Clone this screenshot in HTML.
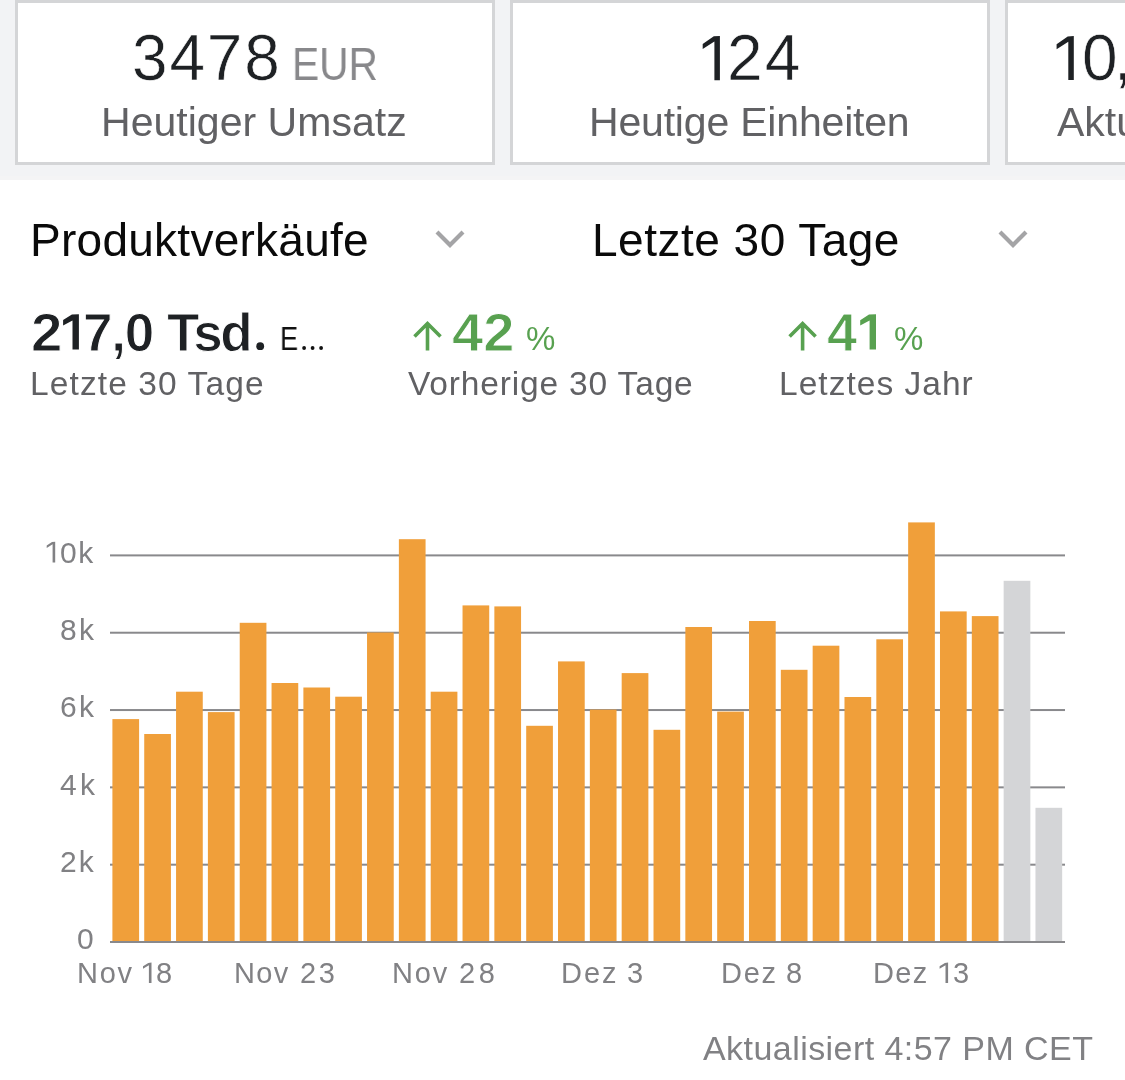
<!DOCTYPE html>
<html><head><meta charset="utf-8"><title>Produktverkäufe</title>
<style>
html,body{margin:0;padding:0;}
body{width:1125px;height:1080px;overflow:hidden;background:#fff;position:relative;font-family:"Liberation Sans",sans-serif;}
.band{position:absolute;left:0;top:0;width:1125px;height:176px;background:#f2f3f5;}
.band2{position:absolute;left:0;top:176px;width:1125px;height:4px;background:#f4f4f5;}
.card{position:absolute;top:0;width:480px;height:165px;box-sizing:border-box;border:3px solid #d4d5d7;background:#fff;}
.chart{position:absolute;left:0;top:0;}
.t{position:absolute;white-space:nowrap;line-height:1;will-change:transform;}
</style></head><body>
<div class="band"></div><div class="band2"></div>
<div class="card" style="left:15px"></div>
<div class="card" style="left:510px"></div>
<div class="card" style="left:1005px"></div>
<svg class="chart" width="1125" height="1080" viewBox="0 0 1125 1080">
<rect x="110" y="554.40" width="955" height="2" fill="#89898c"/>
<rect x="110" y="631.72" width="955" height="2" fill="#89898c"/>
<rect x="110" y="709.04" width="955" height="2" fill="#89898c"/>
<rect x="110" y="786.36" width="955" height="2" fill="#89898c"/>
<rect x="110" y="863.68" width="955" height="2" fill="#89898c"/>
<rect x="112.40" y="719.10" width="26.7" height="222.90" fill="#f09f3a"/>
<rect x="144.23" y="734.00" width="26.7" height="208.00" fill="#f09f3a"/>
<rect x="176.06" y="691.70" width="26.7" height="250.30" fill="#f09f3a"/>
<rect x="207.89" y="712.10" width="26.7" height="229.90" fill="#f09f3a"/>
<rect x="239.72" y="622.80" width="26.7" height="319.20" fill="#f09f3a"/>
<rect x="271.55" y="683.00" width="26.7" height="259.00" fill="#f09f3a"/>
<rect x="303.38" y="687.50" width="26.7" height="254.50" fill="#f09f3a"/>
<rect x="335.21" y="696.70" width="26.7" height="245.30" fill="#f09f3a"/>
<rect x="367.04" y="632.50" width="26.7" height="309.50" fill="#f09f3a"/>
<rect x="398.87" y="539.20" width="26.7" height="402.80" fill="#f09f3a"/>
<rect x="430.70" y="691.70" width="26.7" height="250.30" fill="#f09f3a"/>
<rect x="462.53" y="605.40" width="26.7" height="336.60" fill="#f09f3a"/>
<rect x="494.36" y="606.40" width="26.7" height="335.60" fill="#f09f3a"/>
<rect x="526.19" y="725.80" width="26.7" height="216.20" fill="#f09f3a"/>
<rect x="558.02" y="661.40" width="26.7" height="280.60" fill="#f09f3a"/>
<rect x="589.85" y="709.60" width="26.7" height="232.40" fill="#f09f3a"/>
<rect x="621.68" y="673.10" width="26.7" height="268.90" fill="#f09f3a"/>
<rect x="653.51" y="729.80" width="26.7" height="212.20" fill="#f09f3a"/>
<rect x="685.34" y="627.00" width="26.7" height="315.00" fill="#f09f3a"/>
<rect x="717.17" y="711.60" width="26.7" height="230.40" fill="#f09f3a"/>
<rect x="749.00" y="621.00" width="26.7" height="321.00" fill="#f09f3a"/>
<rect x="780.83" y="669.80" width="26.7" height="272.20" fill="#f09f3a"/>
<rect x="812.66" y="645.70" width="26.7" height="296.30" fill="#f09f3a"/>
<rect x="844.49" y="697.00" width="26.7" height="245.00" fill="#f09f3a"/>
<rect x="876.32" y="639.30" width="26.7" height="302.70" fill="#f09f3a"/>
<rect x="908.15" y="522.40" width="26.7" height="419.60" fill="#f09f3a"/>
<rect x="939.98" y="611.40" width="26.7" height="330.60" fill="#f09f3a"/>
<rect x="971.81" y="616.10" width="26.7" height="325.90" fill="#f09f3a"/>
<rect x="1003.64" y="580.80" width="26.7" height="361.20" fill="#d4d5d7"/>
<rect x="1035.47" y="807.80" width="26.7" height="134.20" fill="#d4d5d7"/>
<rect x="110" y="941.00" width="955" height="2" fill="#89898c"/>
<path d="M437,232 L450,245 L463,232" fill="none" stroke="#a4a4a6" stroke-width="4.2" stroke-linejoin="miter"/>
<path d="M1000,232 L1013,245 L1026,232" fill="none" stroke="#a4a4a6" stroke-width="4.2" stroke-linejoin="miter"/>
<path d="M427.5,350.5 L427.5,323.5 M414.5,336.5 L427.5,323.5 L440.5,336.5" fill="none" stroke="#58a150" stroke-width="3.6" stroke-linejoin="miter"/>
<path d="M802.6,350.5 L802.6,323.5 M789.6,336.5 L802.6,323.5 L815.6,336.5" fill="none" stroke="#58a150" stroke-width="3.6" stroke-linejoin="miter"/>
<circle cx="260.2" cy="346.2" r="3.9" fill="#1e2124"/>
<circle cx="304.1" cy="348" r="1.9" fill="#111"/>
<circle cx="312.6" cy="348" r="1.9" fill="#111"/>
<circle cx="321.1" cy="348" r="1.9" fill="#111"/>
<path d="M151.50,962.60 L151.50,983.00 L148.90,983.00 L148.90,965.20 L143.00,968.80 L143.00,966.30 L148.30,962.90 Z" fill="#818184"/>
<path d="M948.10,962.60 L948.10,983.00 L945.50,983.00 L945.50,965.20 L939.60,968.80 L939.60,966.30 L944.90,962.90 Z" fill="#818184"/>
<path d="M55.20,541.70 L55.20,562.60 L52.60,562.60 L52.60,544.30 L46.70,547.90 L46.70,545.40 L52.00,542.00 Z" fill="#818184"/>
<path d="M719.90,35.90 L719.90,80.20 L714.40,80.20 L714.40,41.50 L702.70,49.10 L702.70,44.10 L713.80,36.20 Z" fill="#1e2124"/>
<path d="M1073.80,36.10 L1073.80,79.90 L1068.30,79.90 L1068.30,41.70 L1056.60,49.30 L1056.60,44.30 L1067.70,36.40 Z" fill="#1e2124"/>
<path d="M78.90,314.20 L78.90,349.50 L72.50,349.50 L72.50,320.40 L63.10,325.50 L63.10,320.10 L71.90,314.50 Z" fill="#1e2124"/>
<path d="M876.00,314.30 L876.00,349.50 L869.60,349.50 L869.60,320.50 L860.20,325.60 L860.20,320.20 L869.00,314.60 Z" fill="#58a150"/>
</svg>
<div class="t" style="left:132.2px;top:26.4px;font:400 64px/1 'Liberation Sans', sans-serif;letter-spacing:1.799px;white-space:nowrap;-webkit-text-stroke:0.6px #fff;color:#1e2124">3478</div>
<div class="t" style="left:292px;top:41.3px;font:400 46px/1 'Liberation Sans', sans-serif;letter-spacing:0px;white-space:nowrap;transform:scaleX(0.8835);transform-origin:0 0;color:#88888b">EUR</div>
<div class="t" style="left:101.2px;top:101.8px;font:400 41px/1 'Liberation Sans', sans-serif;letter-spacing:0.029px;white-space:nowrap;color:#616164">Heutiger Umsatz</div>
<div class="t" style="left:727.2px;top:26.4px;font:400 64px/1 'Liberation Sans', sans-serif;letter-spacing:2.2px;white-space:nowrap;-webkit-text-stroke:0.6px #fff;color:#1e2124">24</div>
<div class="t" style="left:589px;top:101.7px;font:400 41px/1 'Liberation Sans', sans-serif;letter-spacing:-0.188px;white-space:nowrap;color:#616164">Heutige Einheiten</div>
<div class="t" style="left:1081.9px;top:26.4px;font:400 64px/1 'Liberation Sans', sans-serif;letter-spacing:0px;white-space:nowrap;-webkit-text-stroke:0.6px #fff;color:#1e2124">0</div>
<div class="t" style="left:1113.8px;top:26.4px;font:400 64px/1 'Liberation Sans', sans-serif;letter-spacing:0px;white-space:nowrap;-webkit-text-stroke:0.6px #fff;color:#1e2124">,</div>
<div class="t" style="left:1056.6px;top:101.6px;font:400 41px/1 'Liberation Sans', sans-serif;letter-spacing:0px;white-space:nowrap;color:#616164">Aktuell</div>
<div class="t" style="left:29.8px;top:217px;font:400 46px/1 'Liberation Sans', sans-serif;letter-spacing:0.265px;white-space:nowrap;color:#0a0a0a">Produktverkäufe</div>
<div class="t" style="left:591.5px;top:217px;font:400 46px/1 'Liberation Sans', sans-serif;letter-spacing:0.5px;white-space:nowrap;color:#0a0a0a">Letzte 30 Tage</div>
<div class="t" style="left:30.9px;top:306px;font:700 53px/1 'Liberation Sans', sans-serif;letter-spacing:0px;white-space:nowrap;transform:scaleX(1.0642);transform-origin:0 0;-webkit-text-stroke:1.0px #fff;color:#1e2124">2</div>
<div class="t" style="left:83.4px;top:306px;font:700 53px/1 'Liberation Sans', sans-serif;letter-spacing:-1.2px;white-space:nowrap;-webkit-text-stroke:1.0px #fff;color:#1e2124">7,0</div>
<div class="t" style="left:166.9px;top:306px;font:700 53px/1 'Liberation Sans', sans-serif;letter-spacing:-2.3px;white-space:nowrap;-webkit-text-stroke:1.0px #fff;color:#1e2124">Tsd</div>
<div class="t" style="left:280.4px;top:322px;font:400 33px/1 'Liberation Sans', sans-serif;letter-spacing:0px;white-space:nowrap;transform:scaleX(0.8233);transform-origin:0 0;color:#111">E</div>
<div class="t" style="left:29.7px;top:367px;font:400 33.5px/1 'Liberation Sans', sans-serif;letter-spacing:1.108px;white-space:nowrap;color:#616164">Letzte 30 Tage</div>
<div class="t" style="left:451.6px;top:306px;font:700 53px/1 'Liberation Sans', sans-serif;letter-spacing:0px;white-space:nowrap;transform:scaleX(1.0582);transform-origin:0 0;-webkit-text-stroke:1.0px #fff;color:#58a150">42</div>
<div class="t" style="left:526.3px;top:322px;font:400 33px/1 'Liberation Sans', sans-serif;letter-spacing:0px;white-space:nowrap;color:#58a150">%</div>
<div class="t" style="left:407.7px;top:367px;font:400 33.5px/1 'Liberation Sans', sans-serif;letter-spacing:0.839px;white-space:nowrap;color:#616164">Vorherige 30 Tage</div>
<div class="t" style="left:826.8px;top:306px;font:700 53px/1 'Liberation Sans', sans-serif;letter-spacing:0px;white-space:nowrap;transform:scaleX(1.0215);transform-origin:0 0;-webkit-text-stroke:1.0px #fff;color:#58a150">4</div>
<div class="t" style="left:894.4px;top:322px;font:400 33px/1 'Liberation Sans', sans-serif;letter-spacing:0px;white-space:nowrap;color:#58a150">%</div>
<div class="t" style="left:779.4px;top:367px;font:400 33.5px/1 'Liberation Sans', sans-serif;letter-spacing:1.027px;white-space:nowrap;color:#616164">Letztes Jahr</div>
<div class="t" style="left:703px;top:1031.3px;font:400 34px/1 'Liberation Sans', sans-serif;letter-spacing:0.443px;white-space:nowrap;color:#818184">Aktualisiert 4:57 PM CET</div>
<div class="t" style="left:59.8px;top:537.6px;font:400 30px/1 'Liberation Sans', sans-serif;letter-spacing:1.5px;white-space:nowrap;color:#818184">0k</div>
<div class="t" style="left:60.2px;top:614.95px;font:400 30px/1 'Liberation Sans', sans-serif;letter-spacing:2.4px;white-space:nowrap;color:#818184">8k</div>
<div class="t" style="left:60px;top:692.3px;font:400 30px/1 'Liberation Sans', sans-serif;letter-spacing:2.4px;white-space:nowrap;color:#818184">6k</div>
<div class="t" style="left:59.6px;top:769.65px;font:400 30px/1 'Liberation Sans', sans-serif;letter-spacing:3.2px;white-space:nowrap;color:#818184">4k</div>
<div class="t" style="left:60px;top:847.0px;font:400 30px/1 'Liberation Sans', sans-serif;letter-spacing:2.0px;white-space:nowrap;color:#818184">2k</div>
<div class="t" style="left:76.8px;top:924.35px;font:400 30px/1 'Liberation Sans', sans-serif;letter-spacing:0px;white-space:nowrap;color:#818184">0</div>
<div class="t" style="left:76.5px;top:959px;font:400 29px/1 'Liberation Sans', sans-serif;letter-spacing:1.75px;white-space:nowrap;color:#818184">Nov</div>
<div class="t" style="left:156px;top:959px;font:400 29px/1 'Liberation Sans', sans-serif;letter-spacing:0px;white-space:nowrap;color:#818184">8</div>
<div class="t" style="left:233.9px;top:959px;font:400 29px/1 'Liberation Sans', sans-serif;letter-spacing:1.4px;white-space:nowrap;color:#818184">Nov</div>
<div class="t" style="left:299.9px;top:959px;font:400 29px/1 'Liberation Sans', sans-serif;letter-spacing:2.7px;white-space:nowrap;color:#818184">23</div>
<div class="t" style="left:392.4px;top:959px;font:400 29px/1 'Liberation Sans', sans-serif;letter-spacing:1.8px;white-space:nowrap;color:#818184">Nov</div>
<div class="t" style="left:458.9px;top:959px;font:400 29px/1 'Liberation Sans', sans-serif;letter-spacing:3.6px;white-space:nowrap;color:#818184">28</div>
<div class="t" style="left:561.4px;top:959px;font:400 29px/1 'Liberation Sans', sans-serif;letter-spacing:2.0px;white-space:nowrap;color:#818184">Dez</div>
<div class="t" style="left:627.3px;top:959px;font:400 29px/1 'Liberation Sans', sans-serif;letter-spacing:0px;white-space:nowrap;color:#818184">3</div>
<div class="t" style="left:720.6px;top:959px;font:400 29px/1 'Liberation Sans', sans-serif;letter-spacing:1.7px;white-space:nowrap;color:#818184">Dez</div>
<div class="t" style="left:786.0px;top:959px;font:400 29px/1 'Liberation Sans', sans-serif;letter-spacing:0px;white-space:nowrap;color:#818184">8</div>
<div class="t" style="left:872.8px;top:959px;font:400 29px/1 'Liberation Sans', sans-serif;letter-spacing:1.4px;white-space:nowrap;color:#818184">Dez</div>
<div class="t" style="left:952.5px;top:959px;font:400 29px/1 'Liberation Sans', sans-serif;letter-spacing:0px;white-space:nowrap;color:#818184">3</div>
</body></html>
